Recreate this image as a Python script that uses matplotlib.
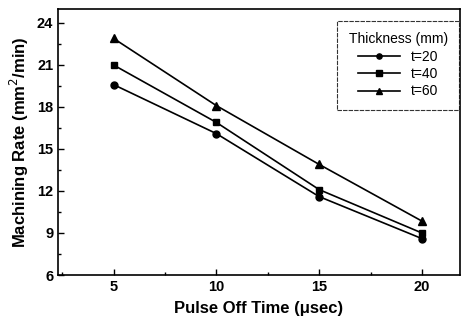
import matplotlib
matplotlib.use("Agg")
import matplotlib.pyplot as plt
from matplotlib.ticker import MultipleLocator

plt.rcParams['font.family'] = ['Liberation Sans', 'DejaVu Sans']

pulse_off = [5, 10, 15, 20]
rate_t20 = [19.6, 16.1, 11.6, 8.6]
rate_t40 = [21.0, 16.9, 12.1, 9.0]
rate_t60 = [22.9, 18.1, 13.9, 9.85]
labels = ["t=20", "t=40", "t=60"]

fig = plt.figure(figsize=(4.7, 3.21), dpi=100)
ax = fig.add_axes([0.1234, 0.1433, 0.8553, 0.8287])

ax.plot(pulse_off, rate_t20, color="black", marker="o", ms=5, lw=1.2, label=labels[0])
ax.plot(pulse_off, rate_t40, color="black", marker="s", ms=5, lw=1.2, label=labels[1])
ax.plot(pulse_off, rate_t60, color="black", marker="^", ms=6, lw=1.2, label=labels[2])

ax.set_xlim(2.3, 21.85)
ax.set_ylim(6, 25)
ax.set_xticks([5, 10, 15, 20])
ax.set_yticks([6, 9, 12, 15, 18, 21, 24])
ax.xaxis.set_minor_locator(MultipleLocator(2.5))
ax.yaxis.set_minor_locator(MultipleLocator(1.5))
ax.tick_params(which="both", direction="in", labelsize=10.5, width=1, color="black")
ax.tick_params(which="major", length=4)
ax.tick_params(which="minor", length=2)
for lbl in ax.get_xticklabels() + ax.get_yticklabels():
    lbl.set_fontweight("bold")
for s in ax.spines.values():
    s.set_linewidth(1.2)

ax.set_xlabel("Pulse Off Time (\u03bcsec)", fontsize=12, fontweight="bold", labelpad=5)
ax.set_ylabel("Machining Rate (mm$^2$/min)", fontsize=12, fontweight="bold", labelpad=4)

leg = ax.legend(title="Thickness (mm)", loc="upper right", bbox_to_anchor=(0.997, 0.955),
                fontsize=10, title_fontsize=10, frameon=True, fancybox=False,
                edgecolor="black", borderaxespad=0, borderpad=0.8, labelspacing=0.25,
                handlelength=3, markerscale=0.75)
leg.get_frame().set_linewidth(0.8)
leg.get_frame().set_linestyle((0, (4, 1)))

fig.savefig("out.png", dpi=100)
